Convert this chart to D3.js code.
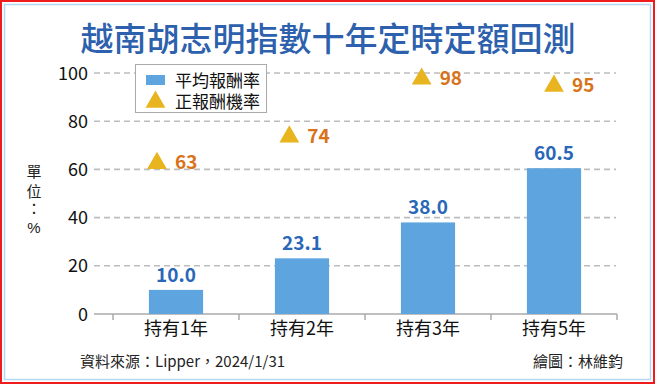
<!DOCTYPE html>
<html><head><meta charset="utf-8">
<script src="https://cdn.jsdelivr.net/npm/d3@7"></script>
<style>
html,body{margin:0;padding:0;background:#fff;}
svg{display:block;font-family:"Noto Sans CJK TC","Noto Sans",sans-serif;}
.tight{font-family:"Liberation Sans","Noto Sans CJK TC",sans-serif;}
</style></head>
<body>
<svg id="c" width="656" height="385"></svg>
<script>
const categories = ["持有1年","持有2年","持有3年","持有5年"];
const avgReturn = [10.0, 23.1, 38.0, 60.5];
const posProb = [63, 74, 98, 95];
const yTicks = [0, 20, 40, 60, 80, 100];
const title = "越南胡志明指數十年定時定額回測";
const legendLabels = ["平均報酬率","正報酬機率"];
const yTitle = ["單","位","：","%"];
const source = "資料來源：Lipper，2024/1/31";
const credit = "繪圖：林維鈞";

const svg = d3.select("#c");
// borders
svg.append("rect").attr("x",1).attr("y",1).attr("width",653).attr("height",382)
  .attr("fill","none").attr("stroke","#ee1c1c").attr("stroke-width",2);
svg.append("rect").attr("x",4.5).attr("y",4.5).attr("width",646).attr("height",375)
  .attr("fill","none").attr("stroke","#b4d8f2").attr("stroke-width",1.5);

svg.append("text").attr("x",328).attr("y",51).attr("text-anchor","middle")
  .attr("font-size",33).attr("font-weight",500).attr("fill","#2d61ad").text(title);

const y = d3.scaleLinear().domain([0,100]).range([314,73]);
const x = d3.scaleBand().domain(categories).range([113,617]).paddingInner(0.57).paddingOuter(0.285);
const xTri = d3.scalePoint().domain(categories).range([157,554]);

// gridlines
svg.append("g").selectAll("line").data(yTicks.filter(d=>d>0)).join("line")
  .attr("x1",94).attr("x2",616).attr("y1",d=>y(d)).attr("y2",d=>y(d))
  .attr("stroke","#bdbdbd").attr("stroke-width",1.6).attr("stroke-dasharray","6,4");

// y labels
svg.append("g").selectAll("text").data(yTicks).join("text")
  .attr("x",88).attr("y",d=>y(d)+6.5).attr("text-anchor","end")
  .attr("font-size",18).attr("fill","#111").text(d=>d);

// x axis
const xAxis = d3.axisBottom(x).tickSize(0).tickPadding(0).tickFormat("");
const ax = svg.append("g").attr("transform",`translate(0,${y(0)})`).call(xAxis);
ax.select(".domain").remove();
ax.append("line").attr("x1",94).attr("x2",617).attr("stroke","#aaa").attr("stroke-width",1.5);
const step = x.step();
const bounds = [x.range()[0]].concat(categories.map(c=>x(c)+x.bandwidth()/2+step/2));
ax.selectAll("line.tk").data(bounds).join("line").attr("class","tk")
  .attr("x1",d=>d).attr("x2",d=>d).attr("y1",0).attr("y2",6).attr("stroke","#aaa").attr("stroke-width",1.5);

svg.append("g").selectAll("text").data(categories).join("text")
  .attr("x",d=>x(d)+x.bandwidth()/2).attr("y",335).attr("text-anchor","middle")
  .attr("font-size",18).attr("fill","#111").text(d=>d);

// bars
svg.append("g").selectAll("rect").data(avgReturn).join("rect")
  .attr("x",(d,i)=>x(categories[i])).attr("width",x.bandwidth())
  .attr("y",d=>y(d)).attr("height",d=>y(0)-y(d)).attr("fill","#5ea4de");
svg.append("g").selectAll("text").data(avgReturn).join("text")
  .attr("x",(d,i)=>x(categories[i])+x.bandwidth()/2).attr("y",d=>y(d)-8)
  .attr("text-anchor","middle").attr("font-size",19).attr("font-weight",700)
  .attr("fill","#2a67b8").text(d=>d.toFixed(1));

// triangles
const tri = d3.symbol().type(d3.symbolTriangle).size(170);
svg.append("g").selectAll("path").data(posProb).join("path")
  .attr("d",tri).attr("transform",(d,i)=>`translate(${xTri(categories[i])},${y(d)+1})`)
  .attr("fill","#e8b41f");
svg.append("g").selectAll("text").data(posProb).join("text")
  .attr("x",(d,i)=>xTri(categories[i])+18).attr("y",d=>y(d)+7)
  .attr("font-size",19).attr("font-weight",700).attr("fill","#d9731a").text(d=>d);

// legend
const lg = svg.append("g");
lg.append("rect").attr("x",135.5).attr("y",64.5).attr("width",131).attr("height",48)
  .attr("fill","#fff").attr("stroke","#aaa").attr("stroke-width",1);
lg.append("rect").attr("x",146).attr("y",75).attr("width",19).attr("height",10).attr("fill","#5ea4de");
lg.append("path").attr("d",tri).attr("transform","translate(155.5,102)").attr("fill","#e8b41f");
lg.selectAll("text").data(legendLabels).join("text").attr("class","tight")
  .attr("x",175).attr("y",(d,i)=>87+i*21).attr("font-size",17).attr("fill","#111").text(d=>d);

// y title
svg.append("g").selectAll("text").data(yTitle).join("text").attr("class","tight")
  .attr("x",34).attr("y",(d,i)=>[177,197,214,233][i]).attr("text-anchor","middle")
  .attr("font-size",15).attr("fill","#222").text(d=>d);

// footer
svg.append("text").attr("x",80).attr("y",367).attr("font-size",15).attr("fill","#222").text(source);
svg.append("text").attr("x",623).attr("y",367).attr("text-anchor","end").attr("font-size",15).attr("fill","#222").text(credit);
</script>
</body></html>
